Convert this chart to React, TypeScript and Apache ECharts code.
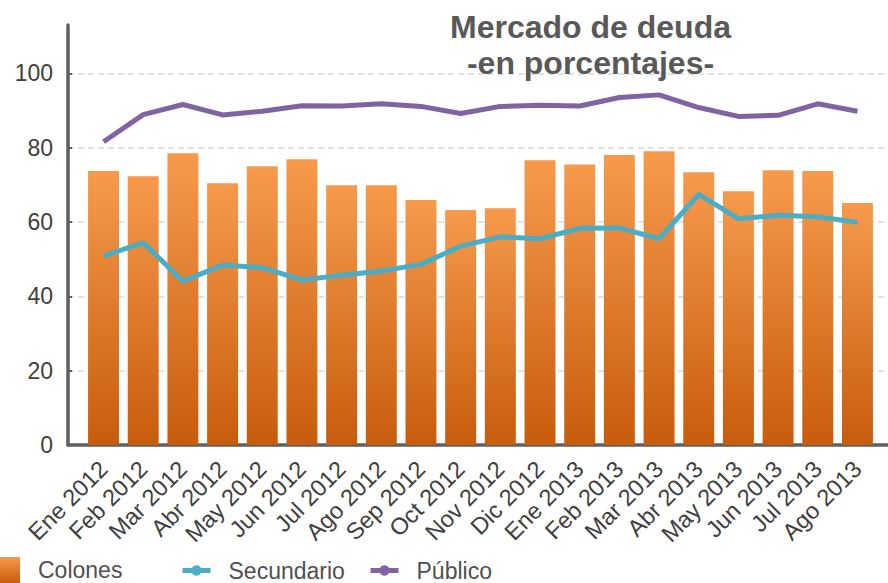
import React, { useEffect, useRef } from "react";
import * as echarts from "echarts";

const categories = [
  "Ene 2012", "Feb 2012", "Mar 2012", "Abr 2012", "May 2012", "Jun 2012",
  "Jul 2012", "Ago 2012", "Sep 2012", "Oct 2012", "Nov 2012", "Dic 2012",
  "Ene 2013", "Feb 2013", "Mar 2013", "Abr 2013", "May 2013", "Jun 2013",
  "Jul 2013", "Ago 2013",
];
const colones = [73.7, 72.3, 78.5, 70.4, 75.0, 76.9, 69.9, 69.9, 65.9, 63.2, 63.7, 76.6, 75.5, 78.0, 79.0, 73.4, 68.3, 73.9, 73.7, 65.1];
const secundario = [50.9, 54.4, 44.1, 48.4, 47.7, 44.4, 45.7, 46.8, 48.6, 53.5, 56.0, 55.5, 58.3, 58.4, 55.5, 67.4, 60.9, 61.8, 61.4, 59.9];
const publico = [81.6, 88.9, 91.6, 88.8, 89.8, 91.3, 91.2, 91.8, 91.1, 89.2, 91.1, 91.4, 91.2, 93.5, 94.2, 90.8, 88.4, 88.7, 91.8, 89.8];
const yTicks = [0, 20, 40, 60, 80, 100];

const FONT = "'Liberation Sans', Arial, sans-serif";
const AXIS_COLOR = "#5f605c";
const LABEL_COLOR = "#404040";
const LEGEND_COLOR = "#505050";

export default function App() {
  const ref = useRef<HTMLDivElement>(null);
  useEffect(() => {
    if (!ref.current) return;
    const chart = echarts.init(ref.current, undefined, { renderer: "svg" });
    const yMax = 113;
    const legendText = { fontFamily: FONT, fontSize: 23, color: LEGEND_COLOR, padding: [0, 0, 0, 13] };
    const option: any = {
      animation: false,
      backgroundColor: "#ffffff",
      textStyle: { fontFamily: FONT },
      title: {
        text: "Mercado de deuda\n-en porcentajes-",
        left: 590.5,
        top: 9,
        padding: 0,
        textAlign: "center",
        textStyle: {
          fontFamily: FONT,
          fontSize: 32,
          fontWeight: "bold",
          color: "#595959",
          lineHeight: 36,
        },
      },
      legend: [
        {
          data: ["Colones"],
          left: 0,
          top: 557,
          padding: 0,
          icon: "rect",
          itemWidth: 20,
          itemHeight: 26,
          textStyle: legendText,
        },
        {
          data: ["Secundario"],
          left: 180,
          top: 559,
          padding: 0,
          itemWidth: 28,
          itemHeight: 13,
          lineStyle: { width: 5 },
          textStyle: legendText,
        },
        {
          data: ["Público"],
          left: 368,
          top: 559,
          padding: 0,
          itemWidth: 28,
          itemHeight: 13,
          lineStyle: { width: 5 },
          textStyle: legendText,
        },
      ],
      grid: [
        { left: 68, right: 0, top: 25, bottom: 138, containLabel: false },
        { left: 83.7, right: 10.7, top: 25, bottom: 138, containLabel: false },
      ],
      xAxis: [
        {
          type: "value",
          gridIndex: 0,
          min: 0,
          max: 1,
          axisLine: { show: true, onZero: false, lineStyle: { color: AXIS_COLOR, width: 3.5 } },
          axisTick: { show: false },
          axisLabel: { show: false },
          splitLine: { show: false },
        },
        {
          type: "category",
          gridIndex: 1,
          data: categories,
          axisLine: { show: false },
          axisTick: { show: false },
          axisLabel: {
            rotate: 45,
            interval: 0,
            margin: 20,
            fontFamily: FONT,
            fontSize: 23.5,
            color: LABEL_COLOR,
          },
        },
      ],
      yAxis: [
        {
          type: "value",
          gridIndex: 0,
          min: 0,
          max: yMax,
          interval: 20,
          axisLine: { show: true, lineStyle: { color: AXIS_COLOR, width: 3.5 } },
          axisTick: { show: true, inside: true, length: 4, lineStyle: { color: AXIS_COLOR, width: 2 } },
          axisLabel: {
            showMaxLabel: false,
            margin: 15,
            fontFamily: FONT,
            fontSize: 23,
            color: LABEL_COLOR,
            formatter: (v: number) => (yTicks.indexOf(v) >= 0 ? String(v) : ""),
          },
          splitLine: {
            show: true,
            showMaxLine: false,
            showMinLine: false,
            lineStyle: { color: "#d9d9d9", type: [6, 4], width: 1.5 },
          },
        },
        {
          type: "value",
          gridIndex: 1,
          min: 0,
          max: yMax,
          show: false,
          splitLine: { show: false },
        },
      ],
      series: [
        {
          name: "Colones",
          type: "bar",
          xAxisIndex: 1,
          yAxisIndex: 1,
          data: colones,
          barCategoryGap: "22%",
          itemStyle: {
            color: new echarts.graphic.LinearGradient(0, 0, 0, 1, [
              { offset: 0, color: "#f79a4c" },
              { offset: 1, color: "#c85c0d" },
            ]),
          },
          z: 1,
        },
        {
          name: "Secundario",
          type: "line",
          xAxisIndex: 1,
          yAxisIndex: 1,
          data: secundario,
          symbol: "circle",
          symbolSize: 11,
          showSymbol: false,
          lineStyle: { color: "#4bacc6", width: 5 },
          itemStyle: { color: "#4bacc6" },
          z: 3,
        },
        {
          name: "Público",
          type: "line",
          xAxisIndex: 1,
          yAxisIndex: 1,
          data: publico,
          symbol: "circle",
          symbolSize: 11,
          showSymbol: false,
          lineStyle: { color: "#8064a2", width: 5 },
          itemStyle: { color: "#8064a2" },
          z: 3,
        },
      ],
    };
    chart.setOption(option);
    return () => chart.dispose();
  }, []);
  return (
    <div
      ref={ref}
      style={{ width: 888, height: 583, position: "absolute", left: 0, top: 0 }}
    />
  );
}
